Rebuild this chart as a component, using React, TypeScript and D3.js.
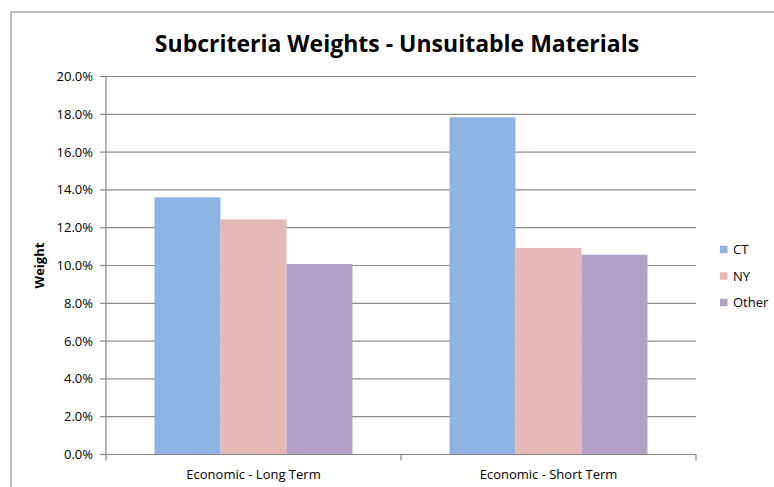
import React, { useEffect, useRef } from "react";
import * as d3 from "d3";

const categories = ["Economic - Long Term", "Economic - Short Term"];
const seriesNames = ["CT", "NY", "Other"];
const ctValues = [0.1361, 0.1784];
const nyValues = [0.1244, 0.1093];
const otherValues = [0.1008, 0.1057];
const yTicks = [0, 0.02, 0.04, 0.06, 0.08, 0.1, 0.12, 0.14, 0.16, 0.18, 0.2];
const colors = ["#8EB4E3", "#E6B9B8", "#B3A2C7"];

const W = 774;
const H = 487;
const FONT = "'Open Sans', 'Liberation Sans', sans-serif";

export default function App() {
  const ref = useRef<SVGSVGElement>(null);

  useEffect(() => {
    const svg = d3.select(ref.current);
    svg.selectAll("*").remove();

    const left = 106, right = 696, top = 76.5, bottom = 454.5;
    const seriesValues = [ctValues, nyValues, otherValues];

    const x = d3.scaleBand<string>().domain(categories).range([left, right]);
    const y = d3.scaleLinear().domain([0, 0.2]).range([bottom, top]);
    const barW = 66;
    const inner = d3
      .scaleBand<string>()
      .domain(seriesNames)
      .range([0, barW * 3]);

    svg.append("rect").attr("width", W).attr("height", H).attr("fill", "#fff");

    // chart area border
    svg
      .append("path")
      .attr("d", `M11,${H + 2} V12 H${W + 2}`)
      .attr("fill", "none")
      .attr("stroke", "#A6A6A6")
      .attr("stroke-width", 1.5);

    // title
    svg
      .append("text")
      .attr("x", 397)
      .attr("y", 52)
      .attr("text-anchor", "middle")
      .attr("font-family", FONT)
      .attr("font-weight", "bold")
      .attr("font-size", 23)
      .attr("fill", "#000")
      .text("Subcriteria Weights - Unsuitable Materials");

    // gridlines
    svg
      .append("g")
      .selectAll("line")
      .data(yTicks.slice(1))
      .join("line")
      .attr("x1", left)
      .attr("x2", right)
      .attr("y1", (d) => y(d))
      .attr("y2", (d) => y(d))
      .attr("stroke", "#8C8C8C")
      .attr("stroke-width", 1.2);

    // bars
    categories.forEach((c, ci) => {
      const x0 = x(c)! + (x.bandwidth() - barW * 3) / 2;
      seriesNames.forEach((s, si) => {
        const v = seriesValues[si][ci];
        svg
          .append("rect")
          .attr("x", x0 + inner(s)!)
          .attr("y", y(v))
          .attr("width", inner.bandwidth())
          .attr("height", bottom - y(v))
          .attr("fill", colors[si]);
      });
    });

    // y axis
    const yAxis = svg.append("g").attr("transform", `translate(${left},0)`);
    yAxis
      .append("line")
      .attr("x1", 0)
      .attr("x2", 0)
      .attr("y1", top)
      .attr("y2", bottom)
      .attr("stroke", "#868686")
      .attr("stroke-width", 1.2);
    yAxis
      .selectAll("line.tick")
      .data(yTicks)
      .join("line")
      .attr("class", "tick")
      .attr("x1", -6)
      .attr("x2", 0)
      .attr("y1", (d) => y(d))
      .attr("y2", (d) => y(d))
      .attr("stroke", "#868686")
      .attr("stroke-width", 1.2);
    yAxis
      .selectAll("text")
      .data(yTicks)
      .join("text")
      .attr("x", -13)
      .attr("y", (d) => y(d))
      .attr("dy", "0.35em")
      .attr("text-anchor", "end")
      .attr("font-family", FONT)
      .attr("font-size", 13)
      .attr("fill", "#000")
      .text((d) => d3.format(".1%")(d));

    // x axis
    const xAxis = svg.append("g");
    xAxis
      .append("line")
      .attr("x1", left - 6)
      .attr("x2", right)
      .attr("y1", bottom)
      .attr("y2", bottom)
      .attr("stroke", "#868686")
      .attr("stroke-width", 1.2);
    const bounds = [left, ...categories.map((c) => x(c)! + x.bandwidth())];
    xAxis
      .selectAll("line.tick")
      .data(bounds)
      .join("line")
      .attr("class", "tick")
      .attr("x1", (d) => d)
      .attr("x2", (d) => d)
      .attr("y1", bottom)
      .attr("y2", bottom + 6)
      .attr("stroke", "#868686")
      .attr("stroke-width", 1.2);
    xAxis
      .selectAll("text")
      .data(categories)
      .join("text")
      .attr("x", (d) => x(d)! + x.bandwidth() / 2)
      .attr("y", 479)
      .attr("text-anchor", "middle")
      .attr("font-family", FONT)
      .attr("font-size", 13)
      .attr("fill", "#000")
      .text((d) => d);

    // y axis title
    svg
      .append("text")
      .attr("transform", `translate(44,${(top + bottom) / 2}) rotate(-90)`)
      .attr("text-anchor", "middle")
      .attr("font-family", FONT)
      .attr("font-weight", "bold")
      .attr("font-size", 13)
      .attr("fill", "#000")
      .text("Weight");

    // legend
    const lg = svg.append("g");
    seriesNames.forEach((s, i) => {
      const cy = 249.5 + i * 26.5;
      lg.append("rect")
        .attr("x", 720)
        .attr("y", cy - 3.75)
        .attr("width", 7.5)
        .attr("height", 7.5)
        .attr("fill", colors[i]);
      lg.append("text")
        .attr("x", 733)
        .attr("y", cy)
        .attr("dy", "0.36em")
        .attr("font-family", FONT)
        .attr("font-size", 13)
        .attr("fill", "#000")
        .text(s);
    });
  }, []);

  return (
    <div style={{ position: "absolute", left: 0, top: 0, width: W, height: H, overflow: "hidden" }}>
      <svg ref={ref} width={W} height={H} style={{ display: "block" }} />
    </div>
  );
}
